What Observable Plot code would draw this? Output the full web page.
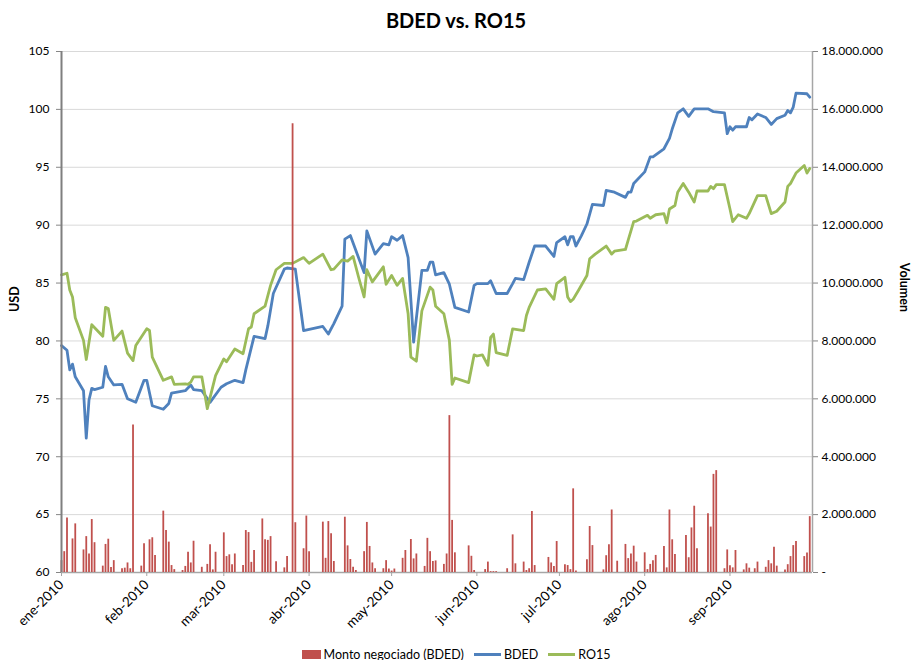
<!DOCTYPE html>
<html><head><meta charset="utf-8">
<script src="https://cdn.jsdelivr.net/npm/d3@7"></script>
<script src="https://cdn.jsdelivr.net/npm/@observablehq/plot@0.6"></script>
<style>
body{margin:0;background:#fff;font-family:Lato,"Liberation Sans",sans-serif;color:#000;}
#wrap{width:912px;height:660px;position:relative;overflow:hidden;}
#title{position:absolute;top:0;left:0;width:912px;text-align:center;font-weight:bold;font-size:20px;line-height:40px;}
#chart{position:absolute;top:40px;left:0;}
#legend{position:absolute;top:645px;left:0;width:912px;height:18px;display:flex;justify-content:center;align-items:center;font-size:12.5px;}
.item{display:flex;align-items:center;margin:0 5px;}
.sw{display:inline-block;margin-right:3px;}
</style></head>
<body><div id="wrap">
<div id="title">BDED vs. RO15</div>
<div id="chart"></div>
<div id="legend"></div>
</div>
<script>
const bdedDates = ["2010-01-01","2010-01-03","2010-01-04","2010-01-05","2010-01-06","2010-01-09","2010-01-10","2010-01-11","2010-01-12","2010-01-13","2010-01-16","2010-01-17","2010-01-18","2010-01-20","2010-01-23","2010-01-25","2010-01-28","2010-01-31","2010-02-01","2010-02-03","2010-02-07","2010-02-09","2010-02-10","2010-02-15","2010-02-17","2010-02-18","2010-02-21","2010-02-24","2010-02-28","2010-03-02","2010-03-05","2010-03-08","2010-03-09","2010-03-12","2010-03-16","2010-03-17","2010-03-19","2010-03-23","2010-03-24","2010-03-27","2010-03-30","2010-04-06","2010-04-08","2010-04-10","2010-04-13","2010-04-14","2010-04-16","2010-04-21","2010-04-22","2010-04-25","2010-04-28","2010-04-30","2010-05-01","2010-05-03","2010-05-05","2010-05-07","2010-05-09","2010-05-12","2010-05-14","2010-05-15","2010-05-16","2010-05-17","2010-05-20","2010-05-22","2010-05-24","2010-05-29","2010-05-31","2010-06-01","2010-06-05","2010-06-06","2010-06-08","2010-06-12","2010-06-14","2010-06-15","2010-06-18","2010-06-20","2010-06-22","2010-06-26","2010-06-29","2010-06-30","2010-07-03","2010-07-04","2010-07-05","2010-07-06","2010-07-07","2010-07-09","2010-07-11","2010-07-13","2010-07-17","2010-07-18","2010-07-21","2010-07-25","2010-07-26","2010-07-27","2010-07-28","2010-08-01","2010-08-03","2010-08-04","2010-08-08","2010-08-10","2010-08-11","2010-08-13","2010-08-15","2010-08-17","2010-08-19","2010-08-24","2010-08-26","2010-08-30","2010-08-31","2010-09-01","2010-09-02","2010-09-03","2010-09-07","2010-09-08","2010-09-09","2010-09-11","2010-09-14","2010-09-16","2010-09-18","2010-09-21","2010-09-22","2010-09-23","2010-09-24","2010-09-25","2010-09-29","2010-09-30"];
const bdedValues = [79.6,79.2,77.5,78.0,76.9,75.7,71.6,74.9,75.9,75.8,76.0,77.8,76.9,76.2,76.25,75.0,74.7,76.6,76.6,74.4,74.1,74.6,75.5,75.7,76.2,75.8,75.7,74.7,76.0,76.3,76.6,76.4,77.5,80.4,80.2,81.3,84.1,86.2,86.3,86.2,80.9,81.25,80.6,81.5,83.0,88.8,89.1,85.9,89.5,87.5,88.4,88.3,89.0,88.7,89.1,87.2,79.9,86.1,86.1,86.8,86.8,85.7,85.9,84.9,82.9,82.5,84.8,84.95,84.95,85.2,84.1,84.1,84.95,85.4,85.3,86.8,88.2,88.2,87.3,88.5,89.0,88.3,89.0,89.0,88.2,89.1,90.1,91.8,91.7,93.0,92.85,92.4,92.85,92.85,93.6,94.6,95.9,95.9,96.6,97.5,98.3,99.7,100.05,99.4,100.05,100.05,99.8,99.7,97.9,98.5,98.2,98.5,98.5,99.3,99.1,99.6,99.3,98.7,99.2,99.5,99.9,99.7,100.2,101.4,101.35,101.05];

const ro15Dates = ["2010-01-01","2010-01-03","2010-01-04","2010-01-05","2010-01-06","2010-01-09","2010-01-10","2010-01-12","2010-01-14","2010-01-16","2010-01-17","2010-01-18","2010-01-20","2010-01-23","2010-01-25","2010-01-27","2010-01-28","2010-02-01","2010-02-02","2010-02-03","2010-02-07","2010-02-10","2010-02-11","2010-02-15","2010-02-16","2010-02-17","2010-02-18","2010-02-21","2010-02-23","2010-02-26","2010-03-01","2010-03-02","2010-03-05","2010-03-08","2010-03-10","2010-03-11","2010-03-12","2010-03-16","2010-03-18","2010-03-20","2010-03-23","2010-03-26","2010-03-30","2010-04-01","2010-04-06","2010-04-09","2010-04-10","2010-04-13","2010-04-15","2010-04-17","2010-04-19","2010-04-21","2010-04-22","2010-04-24","2010-04-28","2010-04-29","2010-05-01","2010-05-03","2010-05-05","2010-05-07","2010-05-08","2010-05-10","2010-05-12","2010-05-15","2010-05-16","2010-05-17","2010-05-20","2010-05-22","2010-05-23","2010-05-24","2010-05-29","2010-05-31","2010-06-01","2010-06-03","2010-06-05","2010-06-06","2010-06-07","2010-06-08","2010-06-12","2010-06-14","2010-06-18","2010-06-19","2010-06-20","2010-06-23","2010-06-26","2010-06-29","2010-06-30","2010-07-03","2010-07-04","2010-07-05","2010-07-06","2010-07-08","2010-07-11","2010-07-12","2010-07-14","2010-07-18","2010-07-20","2010-07-21","2010-07-25","2010-07-26","2010-07-28","2010-07-29","2010-08-02","2010-08-03","2010-08-05","2010-08-08","2010-08-09","2010-08-10","2010-08-12","2010-08-13","2010-08-15","2010-08-17","2010-08-19","2010-08-20","2010-08-24","2010-08-25","2010-08-26","2010-08-27","2010-08-30","2010-09-01","2010-09-02","2010-09-04","2010-09-07","2010-09-08","2010-09-11","2010-09-14","2010-09-16","2010-09-18","2010-09-21","2010-09-22","2010-09-23","2010-09-25","2010-09-28","2010-09-29","2010-09-30"];
const ro15Values = [85.7,85.85,84.4,83.8,82.0,80.05,78.4,81.4,80.9,80.4,82.9,82.8,80.05,80.85,78.95,78.3,79.6,81.05,80.9,78.6,76.6,76.9,76.25,76.3,76.25,76.45,76.9,76.9,74.15,77.0,78.45,78.2,79.3,78.9,81.05,81.2,82.35,83.0,84.8,86.15,86.7,86.7,87.2,86.7,87.5,86.15,86.2,87.0,86.9,87.3,85.5,83.8,86.15,85.1,86.4,84.9,85.65,84.8,85.4,82.35,78.6,78.25,82.6,84.65,84.4,83.0,82.35,80.05,76.25,76.8,76.4,78.8,78.7,78.8,77.9,80.3,80.6,79.0,78.75,81.05,80.9,82.2,82.9,84.4,84.5,83.6,84.95,85.5,83.8,83.4,83.6,84.4,85.65,87.1,87.5,88.2,87.5,87.75,87.9,88.7,90.3,90.35,90.85,90.6,90.9,91.0,90.2,91.4,91.7,92.85,93.6,92.85,92.0,92.95,92.95,93.35,93.15,93.5,93.5,91.4,90.3,90.9,90.6,91.0,92.55,92.55,91.0,91.2,92.0,93.35,93.6,94.5,95.15,94.5,94.9];

const volumeDates = ["2010-01-01","2010-01-02","2010-01-03","2010-01-05","2010-01-06","2010-01-09","2010-01-10","2010-01-11","2010-01-12","2010-01-13","2010-01-16","2010-01-17","2010-01-18","2010-01-19","2010-01-20","2010-01-23","2010-01-24","2010-01-25","2010-01-26","2010-01-27","2010-01-30","2010-01-31","2010-02-02","2010-02-03","2010-02-04","2010-02-07","2010-02-08","2010-02-09","2010-02-10","2010-02-11","2010-02-14","2010-02-15","2010-02-16","2010-02-17","2010-02-18","2010-02-21","2010-02-23","2010-02-24","2010-02-25","2010-02-26","2010-03-01","2010-03-02","2010-03-03","2010-03-04","2010-03-05","2010-03-08","2010-03-09","2010-03-10","2010-03-11","2010-03-12","2010-03-15","2010-03-16","2010-03-17","2010-03-18","2010-03-20","2010-03-23","2010-03-24","2010-03-26","2010-03-27","2010-03-30","2010-03-31","2010-04-01","2010-04-06","2010-04-07","2010-04-08","2010-04-09","2010-04-10","2010-04-14","2010-04-15","2010-04-16","2010-04-17","2010-04-18","2010-04-21","2010-04-22","2010-04-23","2010-04-24","2010-04-25","2010-04-28","2010-04-29","2010-04-30","2010-05-01","2010-05-02","2010-05-05","2010-05-06","2010-05-08","2010-05-09","2010-05-10","2010-05-13","2010-05-14","2010-05-15","2010-05-16","2010-05-17","2010-05-20","2010-05-21","2010-05-22","2010-05-23","2010-05-24","2010-05-29","2010-05-30","2010-05-31","2010-06-04","2010-06-05","2010-06-06","2010-06-07","2010-06-08","2010-06-12","2010-06-14","2010-06-15","2010-06-18","2010-06-19","2010-06-20","2010-06-21","2010-06-22","2010-06-27","2010-06-28","2010-06-29","2010-06-30","2010-07-03","2010-07-04","2010-07-05","2010-07-06","2010-07-07","2010-07-11","2010-07-12","2010-07-13","2010-07-17","2010-07-18","2010-07-19","2010-07-20","2010-07-22","2010-07-25","2010-07-26","2010-07-27","2010-07-28","2010-07-29","2010-08-01","2010-08-02","2010-08-03","2010-08-04","2010-08-05","2010-08-08","2010-08-09","2010-08-10","2010-08-11","2010-08-12","2010-08-16","2010-08-17","2010-08-18","2010-08-19","2010-08-20","2010-08-24","2010-08-25","2010-08-26","2010-08-27","2010-08-30","2010-08-31","2010-09-01","2010-09-02","2010-09-03","2010-09-06","2010-09-07","2010-09-08","2010-09-10","2010-09-11","2010-09-14","2010-09-15","2010-09-16","2010-09-17","2010-09-18","2010-09-21","2010-09-22","2010-09-23","2010-09-24","2010-09-25","2010-09-28","2010-09-29","2010-09-30"];
const volumeValues = [410000,720000,1880000,1160000,1680000,780000,1240000,640000,1830000,1030000,220000,970000,1150000,170000,410000,130000,150000,330000,130000,5100000,220000,990000,1130000,1200000,590000,2120000,1450000,1050000,240000,100000,70000,210000,700000,330000,1080000,180000,280000,960000,90000,700000,1370000,550000,610000,270000,640000,240000,1450000,1380000,350000,760000,1850000,1130000,1110000,1240000,370000,160000,550000,15500000,1720000,820000,1950000,720000,1740000,490000,1760000,1340000,380000,1910000,920000,450000,180000,70000,720000,1730000,900000,330000,130000,130000,410000,120000,50000,120000,490000,760000,1140000,470000,640000,210000,1180000,720000,380000,400000,280000,640000,5420000,1800000,680000,920000,560000,70000,100000,360000,30000,30000,30000,130000,1300000,300000,360000,70000,130000,2110000,240000,520000,330000,210000,1070000,270000,240000,100000,2890000,50000,440000,1590000,930000,90000,580000,960000,2160000,390000,970000,480000,640000,910000,360000,680000,100000,280000,410000,590000,900000,160000,2160000,1130000,620000,1280000,510000,1540000,2290000,820000,2030000,1570000,3390000,3520000,130000,780000,230000,160000,760000,90000,300000,150000,130000,360000,180000,410000,300000,870000,220000,90000,270000,550000,930000,1070000,550000,670000,1930000];

const monthTicks = ["2010-01-01","2010-02-01","2010-03-01","2010-04-01","2010-05-01","2010-06-01","2010-07-01","2010-08-01","2010-09-01"];
const monthLabels = ["ene-2010","feb-2010","mar-2010","abr-2010","may-2010","jun-2010","jul-2010","ago-2010","sep-2010"];
const usdTicks = [60,65,70,75,80,85,90,95,100,105];
const volumeTicks = [0,2000000,4000000,6000000,8000000,10000000,12000000,14000000,16000000,18000000];
const volumeTickLabels = ["-","2.000.000","4.000.000","6.000.000","8.000.000","10.000.000","12.000.000","14.000.000","16.000.000","18.000.000"];

const parse = d3.utcParse("%Y-%m-%d");
const volToUsd = d3.scaleLinear().domain([0, 18000000]).range([60, 105]);
const bded = bdedDates.map((d, i) => ({date: parse(d), value: bdedValues[i]}));
const ro15 = ro15Dates.map((d, i) => ({date: parse(d), value: ro15Values[i]}));
const volume = volumeDates.map((d, i) => ({date: parse(d), value: volumeValues[i]}));
const xDomain = [parse("2010-01-01"), parse("2010-10-01")];
const monthMap = new Map(monthTicks.map((t, i) => [+parse(t), monthLabels[i]]));
const volMap = new Map(volumeTicks.map((v, i) => [volToUsd(v), volumeTickLabels[i]]));

const font = "Lato, 'Liberation Sans', sans-serif";
const chart = Plot.plot({
  width: 912, height: 590,
  marginTop: 11, marginBottom: 58, marginLeft: 61, marginRight: 100,
  style: {fontFamily: font, fontSize: "12px", color: "#000", background: "white", overflow: "visible"},
  x: {type: "utc", domain: xDomain},
  y: {domain: [60, 105]},
  marks: [
    Plot.ruleY(usdTicks.slice(1), {stroke: "#D9D9D9", strokeWidth: 1}),
    Plot.ruleY([60], {stroke: "#A6A6A6", strokeWidth: 1.5}),
    Plot.ruleX([xDomain[1]], {stroke: "#A6A6A6", strokeWidth: 1.5}),
    Plot.axisY({ticks: usdTicks, tickFormat: d => String(d), anchor: "left", tickSize: 5, tickPadding: 7, stroke: "#868686", label: null}),
    Plot.axisY({ticks: volumeTicks.map(v => volToUsd(v)), tickFormat: d => volMap.get(d), anchor: "right", tickSize: 5, tickPadding: 4, stroke: "#868686", label: null}),
    Plot.axisX({ticks: monthTicks.map(parse), tickFormat: d => monthMap.get(+d), tickRotate: -45, tickSize: 4, tickPadding: 6, fontSize: 13.5, stroke: "#A6A6A6", label: null}),
    Plot.line(bded, {x: "date", y: "value", stroke: "#4F81BD", strokeWidth: 2.8, strokeLinejoin: "round", strokeLinecap: "round"}),
    Plot.line(ro15, {x: "date", y: "value", stroke: "#9BBB59", strokeWidth: 2.8, strokeLinejoin: "round", strokeLinecap: "round"}),
    Plot.ruleX(volume, {x: "date", y1: 60, y2: d => volToUsd(d.value), stroke: "#C0504D", strokeWidth: 1.8}),
    Plot.ruleX([xDomain[0]], {stroke: "#7F7F7F", strokeWidth: 2}),
    Plot.text(["USD"], {frameAnchor: "left", dx: -47, rotate: -90, fontWeight: "bold", fontSize: 12.5}),
    Plot.text(["Volumen"], {frameAnchor: "right", dx: 91, rotate: 90, fontWeight: "bold", fontSize: 12.5})
  ]
});
document.getElementById("chart").appendChild(chart);

const legendItems = [
  {label: "Monto negociado (BDED)", color: "#C0504D", kind: "rect"},
  {label: "BDED", color: "#4F81BD", kind: "line"},
  {label: "RO15", color: "#9BBB59", kind: "line"}
];
const legend = document.getElementById("legend");
legendItems.forEach(it => {
  const item = document.createElement("span");
  item.className = "item";
  const sw = document.createElement("span");
  sw.className = "sw";
  if (it.kind === "rect") { sw.style.width = "19px"; sw.style.height = "9px"; }
  else { sw.style.width = "27px"; sw.style.height = "3px"; }
  sw.style.background = it.color;
  item.appendChild(sw);
  item.appendChild(document.createTextNode(it.label));
  legend.appendChild(item);
});
</script>
</body></html>
